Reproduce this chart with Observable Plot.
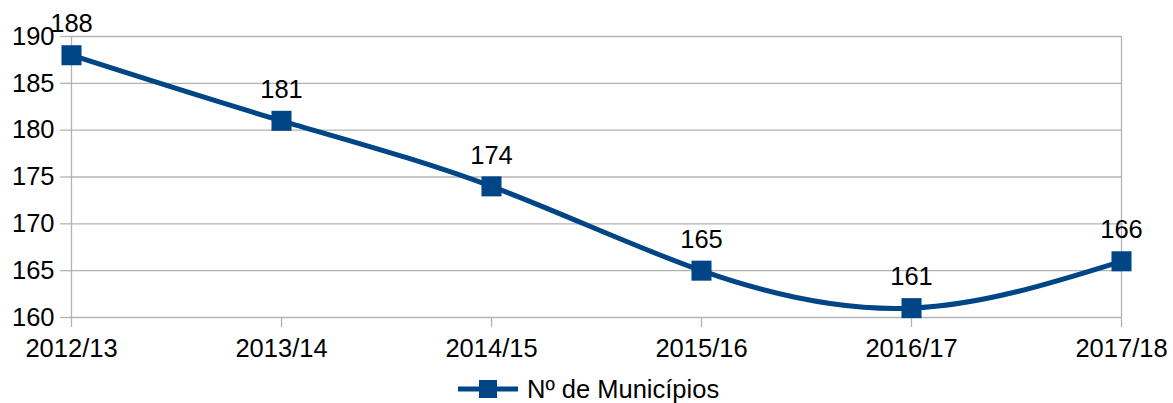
<!DOCTYPE html>
<html>
<head>
<meta charset="utf-8">
<script src="https://cdn.jsdelivr.net/npm/d3@7"></script>
<script src="https://cdn.jsdelivr.net/npm/@observablehq/plot@0.6"></script>
<style>
  html, body { margin: 0; padding: 0; background: #fff; }
  body { width: 1173px; height: 403px; overflow: hidden; font-family: "Liberation Sans", Arial, sans-serif; }
  #legend { position: relative; height: 38px; }
  #legend svg { position: absolute; left: 0; top: 0; }
</style>
</head>
<body>
<div id="chart"></div>
<div id="legend"></div>
<script>
const seasons = ["2012/13", "2013/14", "2014/15", "2015/16", "2016/17", "2017/18"];
const municipios = [188, 181, 174, 165, 161, 166];
const yTicks = [160, 165, 170, 175, 180, 185, 190];
const seriesName = "Nº de Municípios";

const data = seasons.map((s, i) => ({season: s, value: municipios[i]}));
const blue = "#004586";
const grid = "#b3b3b3";
const fs = 25.5;

const chart = Plot.plot({
  width: 1173,
  height: 365,
  marginLeft: 70,
  marginRight: 52,
  marginTop: 36,
  marginBottom: 48,
  style: {fontFamily: "Liberation Sans, Arial, sans-serif", fontSize: fs + "px", color: "#000", background: "#fff"},
  x: {type: "point", domain: seasons, padding: 0, label: null},
  y: {domain: [160, 190], label: null},
  marks: [
    Plot.ruleY(yTicks, {stroke: grid, strokeWidth: 1.3}),
    Plot.ruleX([seasons[0], seasons[seasons.length - 1]], {stroke: grid, strokeWidth: 1.3, y1: 160, y2: 190}),
    Plot.axisX({ticks: seasons, tickSize: 10, tickPadding: 11, stroke: grid, strokeWidth: 1.3, strokeOpacity: 1, fontSize: fs, fill: "#000", label: null}),
    Plot.axisY({ticks: yTicks, tickSize: 10, tickPadding: 6, stroke: grid, strokeWidth: 1.3, strokeOpacity: 1, fontSize: fs, fill: "#000", label: null}),
    Plot.line(data, {x: "season", y: "value", stroke: blue, strokeWidth: 5, curve: "natural"}),
    Plot.dot(data, {x: "season", y: "value", symbol: "square", r: 11.3, fill: blue, stroke: null}),
    Plot.text(data, {x: "season", y: "value", text: d => String(d.value), dy: -31, fontSize: fs, fill: "#000"})
  ]
});
document.getElementById("chart").appendChild(chart);

// Legend below the chart
const lg = d3.select("#legend").append("svg").attr("width", 1173).attr("height", 38);
const cy = 24;
lg.append("line").attr("x1", 458).attr("x2", 518).attr("y1", cy).attr("y2", cy)
  .attr("stroke", blue).attr("stroke-width", 5);
lg.append("rect").attr("x", 479).attr("y", cy - 9).attr("width", 18).attr("height", 18).attr("fill", blue);
lg.append("text").attr("x", 527).attr("y", cy).attr("dy", "0.35em")
  .attr("font-family", "Liberation Sans, Arial, sans-serif").attr("font-size", fs).attr("fill", "#000")
  .text(seriesName);
</script>
</body>
</html>
